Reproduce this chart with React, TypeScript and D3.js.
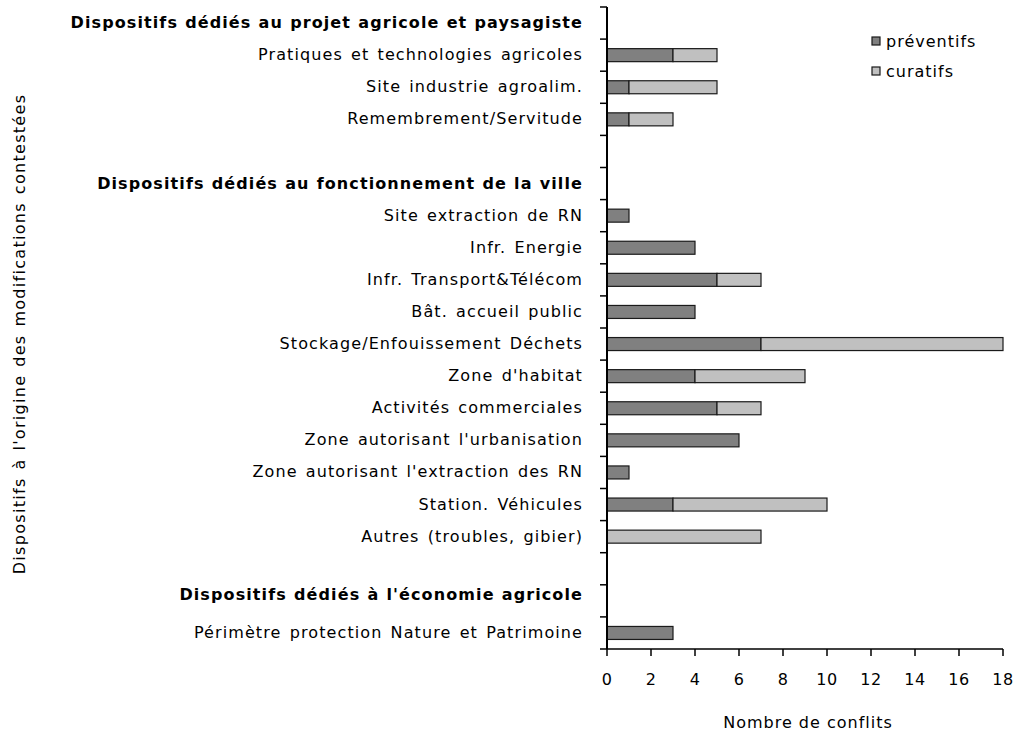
import React from "react";
import * as d3 from "d3";

const categories = [
  "Dispositifs dédiés au projet agricole et paysagiste",
  "Pratiques et technologies agricoles",
  "Site industrie agroalim.",
  "Remembrement/Servitude",
  "",
  "Dispositifs dédiés au fonctionnement de la ville",
  "Site extraction de RN",
  "Infr. Energie",
  "Infr. Transport&Télécom",
  "Bât. accueil public",
  "Stockage/Enfouissement Déchets",
  "Zone d'habitat",
  "Activités commerciales",
  "Zone autorisant l'urbanisation",
  "Zone autorisant l'extraction des RN",
  "Station. Véhicules",
  "Autres (troubles, gibier)",
  " ",
  "Dispositifs dédiés à l'économie agricole",
  "Périmètre protection Nature et Patrimoine",
];
const headers = [
  "Dispositifs dédiés au projet agricole et paysagiste",
  "Dispositifs dédiés au fonctionnement de la ville",
  "Dispositifs dédiés à l'économie agricole",
];
const preventifs = [0, 3, 1, 1, 0, 0, 1, 4, 5, 4, 7, 4, 5, 6, 1, 3, 0, 0, 0, 3];
const curatifs = [0, 2, 4, 2, 0, 0, 0, 0, 2, 0, 11, 5, 2, 0, 0, 7, 7, 0, 0, 0];
const xTicks = [0, 2, 4, 6, 8, 10, 12, 14, 16, 18];
const seriesNames = ["préventifs", "curatifs"];
const colors = ["#808080", "#c0c0c0"];

export default function App() {
  const W = 1018, H = 736;
  const x0 = 607, x1 = 1003, yTop = 7, yBot = 649;
  const x = d3.scaleLinear().domain([0, 18]).range([x0, x1]);
  const yb = d3.scaleBand().domain(categories.map((_, i) => String(i))).range([yTop, yBot]);
  const font = "Verdana, 'DejaVu Sans', sans-serif";
  const stacked = d3.stack<any>().keys(["p", "c"])(
    categories.map((_, i) => ({ p: preventifs[i], c: curatifs[i] }))
  );
  return (
    <svg width={W} height={H} style={{ position: "absolute", left: 0, top: 0, background: "#fff" }} fontFamily={font}>
      {/* bars */}
      {stacked.map((s, si) =>
        s.map((d, i) =>
          d[1] - d[0] > 0 ? (
            <rect key={`${si}-${i}`} x={x(d[0])} y={yb(String(i))! + yb.bandwidth() / 2 - 6.5} width={x(d[1]) - x(d[0])} height={13}
              fill={colors[si]} stroke="#1a1a1a" strokeWidth={1.2} />
          ) : null
        )
      )}
      {/* y axis */}
      <line x1={x0} x2={x0} y1={yTop} y2={yBot} stroke="#000" strokeWidth={2} />
      {categories.map((_, i) => (
        <line key={"yt" + i} x1={x0 - 7} x2={x0} y1={yb(String(i))!} y2={yb(String(i))!} stroke="#000" strokeWidth={1.5} />
      ))}
      <line x1={x0 - 7} x2={x0} y1={yBot} y2={yBot} stroke="#000" strokeWidth={1.5} />
      {/* x axis */}
      <line x1={x0} x2={x1} y1={yBot} y2={yBot} stroke="#000" strokeWidth={1.5} />
      {xTicks.map((t) => (
        <g key={"xt" + t}>
          <line x1={x(t)} x2={x(t)} y1={yBot} y2={yBot + 7} stroke="#000" strokeWidth={1.5} />
          <text x={x(t)} y={yBot + 36} textAnchor="middle" fontSize={16} letterSpacing={0.5} fill="#000">{t}</text>
        </g>
      ))}
      {/* category labels */}
      {categories.map((c, i) => {
        const hi = headers.indexOf(c);
        const isH = hi >= 0;
        return (
          <text key={"c" + i} x={583} y={yb(String(i))! + yb.bandwidth() / 2 + 5 - (hi === 2 ? 6 : 0)} textAnchor="end"
            fontSize={16} letterSpacing={isH ? 1.1 : 1.1} wordSpacing={isH ? 0.5 : 2} fontWeight={isH ? "bold" : "normal"} fill="#000">
            {c.trim()}
          </text>
        );
      })}
      {/* axis titles */}
      <text x={808} y={728} textAnchor="middle" fontSize={16} letterSpacing={1} fill="#000">Nombre de conflits</text>
      <text transform="translate(25,334) rotate(-90)" textAnchor="middle" fontSize={16} letterSpacing={1.3} wordSpacing={1.5} fill="#000">
        Dispositifs à l'origine des modifications contestées
      </text>
      {/* legend */}
      {seriesNames.map((n, i) => (
        <g key={"lg" + i}>
          <rect x={872} y={37 + i * 30} width={8} height={8} fill={colors[i]} stroke="#1a1a1a" strokeWidth={1.2} />
          <text x={886} y={47 + i * 30} fontSize={16} letterSpacing={1} fill="#000">{n}</text>
        </g>
      ))}
    </svg>
  );
}
